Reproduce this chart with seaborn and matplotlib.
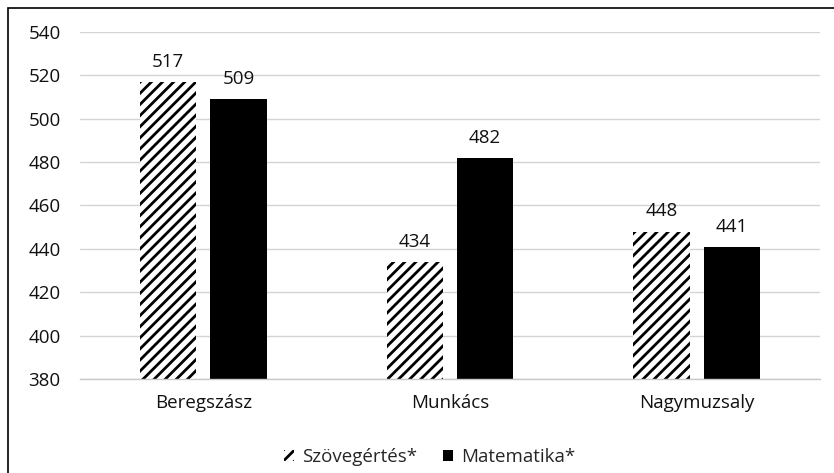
import matplotlib
matplotlib.use("Agg")
import matplotlib.pyplot as plt
import seaborn as sns
import pandas as pd
from matplotlib.patches import Rectangle

towns = ["Beregszász", "Munkács", "Nagymuzsaly"]
reading = [517, 434, 448]
maths = [509, 482, 441]
series_names = ["Szövegértés*", "Matematika*"]
y_ticks = [380, 400, 420, 440, 460, 480, 500, 520, 540]

df = pd.DataFrame({
    "town": towns * 2,
    "score": reading + maths,
    "subject": [series_names[0]] * 3 + [series_names[1]] * 3,
})

sns.set_theme(style="white")
plt.rcParams["font.family"] = ["Open Sans", "DejaVu Sans"]
plt.rcParams["hatch.linewidth"] = 2.0
plt.rcParams["hatch.color"] = "black"

FS = 13.5
TXT = "#111111"

fig = plt.figure(figsize=(8.34, 4.73), dpi=100)
ax = fig.add_axes([80 / 834, 1 - 379 / 473, 740 / 834, 347 / 473])

sns.barplot(data=df, x="town", y="score", hue="subject", order=towns,
            hue_order=series_names, palette=["white", "black"],
            width=0.57, gap=0.2, ax=ax, legend=False, edgecolor="none",
            linewidth=0)

hatched = ax.containers[0]
for bar in hatched:
    bar.set_hatch("///")
    bar.set_edgecolor("black")
    bar.set_linewidth(0)

for cont in ax.containers:
    ax.bar_label(cont, labels=[str(int(v)) for v in cont.datavalues],
                 padding=8, fontsize=FS, color=TXT)

ax.set_ylim(380, 540)
ax.set_yticks(y_ticks)
ax.set_xlim(-0.5, 2.5)
ax.yaxis.grid(True, color="#d4d4d4", linewidth=1)
ax.set_axisbelow(True)
for side in ["top", "right", "left"]:
    ax.spines[side].set_visible(False)
ax.spines["bottom"].set_color("#c8c8c8")
ax.spines["bottom"].set_linewidth(1)
ax.tick_params(axis="both", length=0, labelsize=FS, colors=TXT)
ax.tick_params(axis="x", pad=11)
ax.tick_params(axis="y", pad=14)
ax.set_xlabel("")
ax.set_ylabel("")

# Legend with a hatched swatch and a solid swatch
h1 = Rectangle((0, 0), 1, 1, facecolor="white", hatch="///",
               edgecolor="black", linewidth=0)
h2 = Rectangle((0, 0), 1, 1, facecolor="black", edgecolor="none")
fig.legend([h1, h2], series_names, loc="center", bbox_to_anchor=(0.515, 1 - 457 / 473),
           ncol=2, frameon=False, fontsize=FS, handlelength=0.55,
           handleheight=0.55, handletextpad=0.4, columnspacing=1.4)

# Outer frame of the chart area
fig.patches.append(Rectangle((8 / 834, -0.1), 1.2, 1 - 8 / 473 + 0.1,
                             transform=fig.transFigure, fill=False,
                             edgecolor="black", linewidth=1.2, zorder=10))

fig.savefig("out.png", dpi=100)
